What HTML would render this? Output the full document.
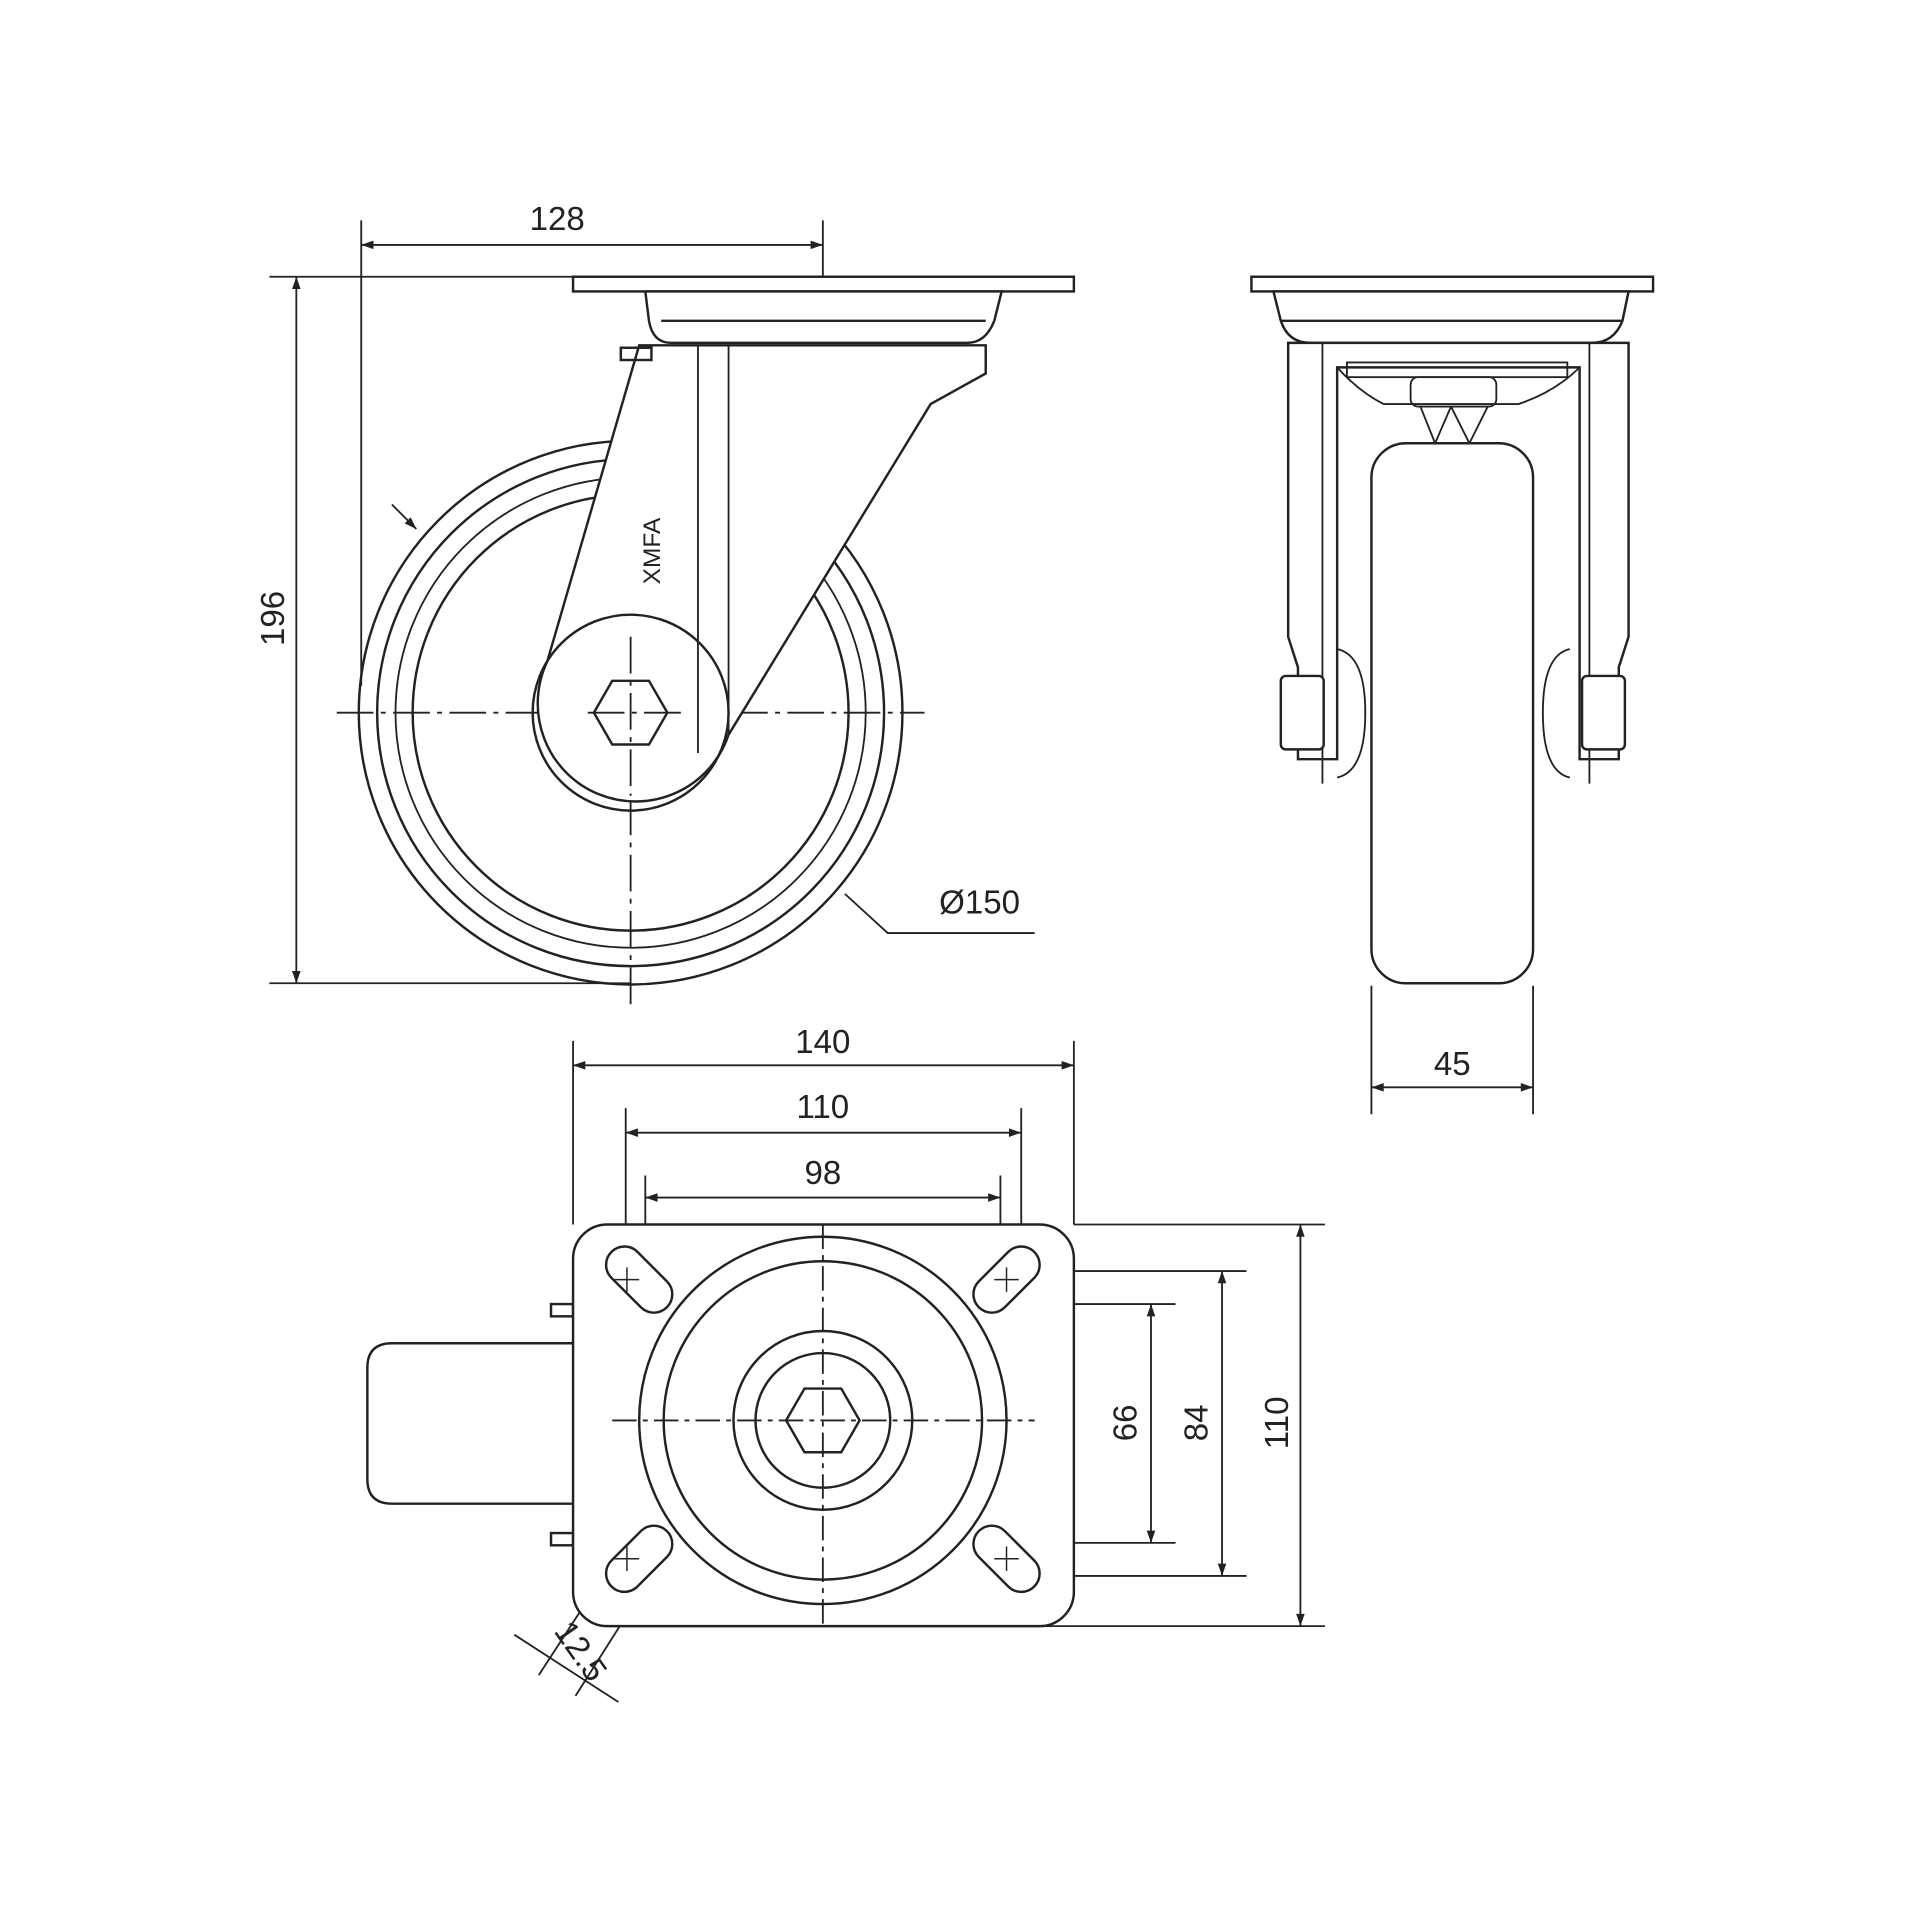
<!DOCTYPE html>
<html><head><meta charset="utf-8"><style>html,body{margin:0;padding:0;background:#fff}svg{display:block}</style></head>
<body>
<svg width="1920" height="1920" viewBox="0 0 1568 1568" xmlns="http://www.w3.org/2000/svg" font-family="Liberation Sans, DejaVu Sans, sans-serif" font-size="27" fill="none" stroke="#222" stroke-width="2">
<defs>
<marker id="a" viewBox="0 0 10 10" refX="10" refY="5" markerWidth="14" markerHeight="10" orient="auto-start-reverse" markerUnits="userSpaceOnUse"><path d="M0,1.5 L10,5 L0,8.5z" fill="#222" stroke="none"/></marker>
</defs>
<!-- LEFT VIEW -->
<g stroke-width="1.5">
<line x1="295" y1="180" x2="295" y2="560"/>
<line x1="672" y1="180" x2="672" y2="250"/>
<line x1="295" y1="200" x2="672" y2="200" marker-start="url(#a)" marker-end="url(#a)"/>
<line x1="220" y1="226" x2="468" y2="226"/>
<line x1="220" y1="803" x2="515" y2="803"/>
<line x1="242" y1="226" x2="242" y2="803" marker-start="url(#a)" marker-end="url(#a)"/>
<line x1="275" y1="582" x2="755" y2="582" stroke-dasharray="30 6 4 6"/>
<line x1="515" y1="330" x2="515" y2="820" stroke-dasharray="30 6 4 6"/>
<polyline points="690,730 725,762 845,762"/>
<line x1="320" y1="412" x2="340" y2="432" marker-end="url(#a)"/>
</g>
<circle cx="515" cy="582" r="222"/>
<circle cx="515" cy="582" r="207"/>
<circle cx="515" cy="582" r="192" stroke-width="1.5"/>
<circle cx="515" cy="582" r="178"/>
<rect x="468" y="226" width="409" height="12" fill="#fff"/>
<path d="M527,238 H818 L812,262 Q805,280 790,280 H548 Q533,280 530,262 Z" fill="#fff"/>
<line x1="540" y1="262" x2="805" y2="262"/>
<path d="M522,282 H805 V305 L760,330 L595,600 A80,80 0 1 1 447,540 Z" fill="#fff"/>
<circle cx="515" cy="582" r="80" fill="none"/>
<path d="M570,282 V615 M595,282 V600" stroke-width="1.5"/>
<rect x="507" y="284" width="25" height="10"/>
<polygon points="485,582 500,556 530,556 545,582 530,608 500,608" fill="#fff"/>
<line x1="515" y1="520" x2="515" y2="650" stroke-dasharray="30 6 4 6" stroke-width="1.5"/>
<line x1="480" y1="582" x2="560" y2="582" stroke-dasharray="30 6 4 6" stroke-width="1.5"/>
<text x="539" y="450" fill="#222" stroke="none" font-size="20" transform="rotate(-90 539 450)" text-anchor="middle">XMFA</text>
<text x="455" y="188" fill="#222" stroke="none" text-anchor="middle">128</text>
<text x="232" y="505" fill="#222" stroke="none" text-anchor="middle" transform="rotate(-90 232 505)">196</text>
<text x="800" y="746" fill="#222" stroke="none" text-anchor="middle">Ø150</text>
<!-- RIGHT VIEW -->
<rect x="1022" y="226" width="328" height="12" fill="#fff"/>
<path d="M1040,238 H1330 L1325,262 Q1318,280 1300,280 H1070 Q1052,280 1046,262 Z" fill="#fff"/>
<line x1="1046" y1="262" x2="1325" y2="262"/>
<path d="M1052,280 V520 L1060,545 V620 H1092 V300 H1290 V620 H1322 V545 L1330,520 V280 Z" fill="#fff"/>
<path d="M1080,280 V640 M1298,280 V640 M1092,300 Q1110,320 1130,330 H1240 Q1270,320 1290,300" stroke-width="1.5"/>
<rect x="1100" y="296" width="180" height="12" stroke-width="1.5"/>
<rect x="1152" y="308" width="70" height="24" rx="6" stroke-width="1.5"/>
<path d="M1160,332 L1172,362 M1215,332 L1200,362 M1185,332 L1172,362 M1185,332 L1200,362" stroke-width="1.5"/>
<rect x="1120" y="362" width="132" height="441" rx="28" fill="#fff"/>
<rect x="1046" y="552" width="35" height="60" rx="4" fill="#fff"/>
<rect x="1292" y="552" width="35" height="60" rx="4" fill="#fff"/>
<path d="M1092,530 Q1115,535 1115,582 Q1115,630 1092,635 M1282,530 Q1260,535 1260,582 Q1260,630 1282,635" stroke-width="1.5"/>
<g stroke-width="1.5">
<line x1="1120" y1="805" x2="1120" y2="910"/><line x1="1252" y1="805" x2="1252" y2="910"/>
<line x1="1120" y1="888" x2="1252" y2="888" marker-start="url(#a)" marker-end="url(#a)"/>
</g>
<text x="1186" y="878" fill="#222" stroke="none" text-anchor="middle">45</text>
<!-- BOTTOM VIEW -->
<g stroke-width="1.5">
<line x1="468" y1="850" x2="468" y2="1000"/><line x1="877" y1="850" x2="877" y2="1000"/>
<line x1="468" y1="870" x2="877" y2="870" marker-start="url(#a)" marker-end="url(#a)"/>
<line x1="511" y1="905" x2="511" y2="1040"/><line x1="834" y1="905" x2="834" y2="1040"/>
<line x1="511" y1="925" x2="834" y2="925" marker-start="url(#a)" marker-end="url(#a)"/>
<line x1="527" y1="960" x2="527" y2="1040"/><line x1="817" y1="960" x2="817" y2="1040"/>
<line x1="527" y1="978" x2="817" y2="978" marker-start="url(#a)" marker-end="url(#a)"/>
<line x1="877" y1="1000" x2="1082" y2="1000"/><line x1="850" y1="1328" x2="1082" y2="1328"/>
<line x1="1062" y1="1000" x2="1062" y2="1328" marker-start="url(#a)" marker-end="url(#a)"/>
<line x1="834" y1="1038" x2="1018" y2="1038"/><line x1="834" y1="1287" x2="1018" y2="1287"/>
<line x1="998" y1="1038" x2="998" y2="1287" marker-start="url(#a)" marker-end="url(#a)"/>
<line x1="817" y1="1065" x2="960" y2="1065"/><line x1="817" y1="1260" x2="960" y2="1260"/>
<line x1="940" y1="1065" x2="940" y2="1260" marker-start="url(#a)" marker-end="url(#a)"/>
<line x1="420" y1="1335" x2="505" y2="1390"/>
<line x1="548" y1="1262" x2="470" y2="1385"/><line x1="520" y1="1245" x2="440" y2="1368"/>
</g>
<path d="M468,1097 H320 Q300,1097 300,1117 V1208 Q300,1228 320,1228 H468" fill="#fff"/>
<rect x="450" y="1065" width="18" height="10"/><rect x="450" y="1252" width="18" height="10"/>
<rect x="468" y="1000" width="409" height="328" rx="28" fill="#fff"/>
<circle cx="672" cy="1160" r="150"/>
<circle cx="672" cy="1160" r="130"/>
<circle cx="672" cy="1160" r="73"/>
<circle cx="672" cy="1160" r="55"/>
<polygon points="642,1160 657,1134 687,1134 702,1160 687,1186 657,1186"/>
<g stroke-width="1.5" stroke-dasharray="20 5 4 5">
<line x1="500" y1="1160" x2="845" y2="1160"/><line x1="672" y1="1000" x2="672" y2="1328"/>
</g>
<g stroke-width="2">
<rect x="790" y="1030" width="64" height="30" rx="15" transform="rotate(-45 822 1045)"/>
<rect x="790" y="1258" width="64" height="30" rx="15" transform="rotate(45 822 1273)"/>
<rect x="490" y="1030" width="64" height="30" rx="15" transform="rotate(45 522 1045)"/>
<rect x="490" y="1258" width="64" height="30" rx="15" transform="rotate(-45 522 1273)"/>
</g>
<g stroke-width="1.2">
<path d="M822,1035 v20 M812,1045 h20 M822,1263 v20 M812,1273 h20 M512,1035 v20 M502,1045 h20 M512,1263 v20 M502,1273 h20"/>
</g>
<text x="672" y="860" fill="#222" stroke="none" text-anchor="middle">140</text>
<text x="672" y="913" fill="#222" stroke="none" text-anchor="middle">110</text>
<text x="672" y="967" fill="#222" stroke="none" text-anchor="middle">98</text>
<text x="928" y="1162" fill="#222" stroke="none" text-anchor="middle" transform="rotate(-90 928 1162)">66</text>
<text x="986" y="1162" fill="#222" stroke="none" text-anchor="middle" transform="rotate(-90 986 1162)">84</text>
<text x="1052" y="1162" fill="#222" stroke="none" text-anchor="middle" transform="rotate(-90 1052 1162)">110</text>
<text x="475" y="1358" fill="#222" stroke="none" text-anchor="middle" transform="rotate(55 475 1348)">12.5</text>
</svg>
</body></html>
